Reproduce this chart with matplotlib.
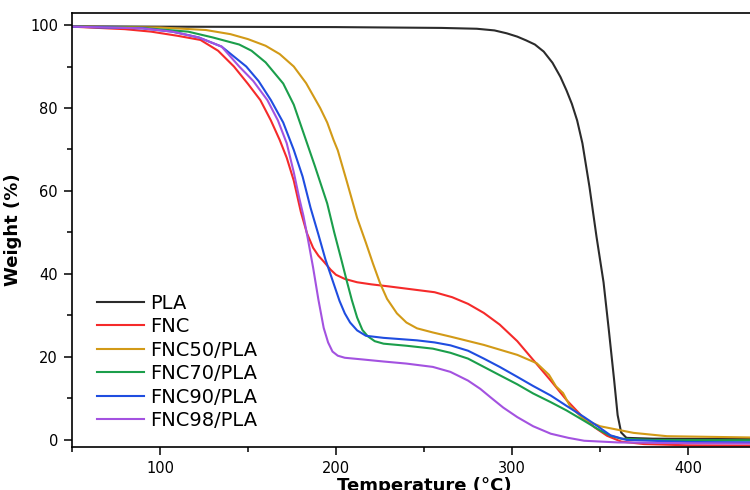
import matplotlib.pyplot as plt
from matplotlib.ticker import MultipleLocator

# TGA curves
pla_t = [50, 100, 200, 260, 280, 290, 297, 303, 308, 313, 318, 323, 327.5, 331, 334, 337, 340, 344, 348, 352, 355, 358, 360,
         362, 365, 380, 450]
pla_w = [99.7, 99.6, 99.5, 99.3, 99.1, 98.7, 98.0, 97.2, 96.3, 95.3, 93.6, 90.9, 87.5, 84.2, 81.0, 77.0, 71.5, 61.0, 49.0,
         38.0, 26.5, 14.5, 6.0, 1.8, 0.5, 0.3, 0.2]

fnc_t = [50, 80, 95, 110, 123, 133, 142, 150, 157, 163, 168, 172, 176, 180, 183.5, 187, 190, 193, 197, 200, 205, 212, 220, 230,
         243, 256, 266, 275, 284, 293, 303, 312, 322, 331, 340, 347, 354, 362, 375, 400, 450]
fnc_w = [99.6, 99.0, 98.4, 97.4, 96.4, 93.8, 90.0, 85.8, 81.9, 77.0, 72.3, 68.0, 62.5, 55.0, 49.8, 46.3, 44.4, 43.0, 41.0, 39.8,
         38.8, 38.0, 37.5, 37.0, 36.3, 35.6, 34.4, 32.8, 30.6, 27.8, 23.8, 19.3, 14.3, 9.6, 5.6, 3.0, 1.0, -0.4, -1.0, -1.3, -1.4]

fnc50_t = [50, 100, 126, 140, 150, 160, 168, 176, 183, 191, 195, 198.6, 201, 206, 212, 217, 221, 225, 229, 234.6, 240, 246, 255,
           265, 284, 303, 314, 321, 325, 329, 333, 341, 350, 369, 388, 450]
fnc50_w = [99.6, 99.4, 98.8, 97.8, 96.6, 95.0, 93.0, 90.0, 86.0, 80.0, 76.5, 72.3, 69.8, 62.5, 53.5, 47.5, 42.5, 37.8, 34.0,
           30.5, 28.3, 26.9, 25.9, 24.9, 22.9, 20.5, 18.5, 15.7, 12.9, 11.3, 8.1, 4.9, 3.3, 1.7, 0.9, 0.5]

fnc70_t = [50, 90, 116, 130, 145, 152, 160, 170, 176, 181.6, 188, 195, 199, 203, 206, 209, 212, 215, 218, 222, 227, 240, 255,
           265, 275, 284, 293, 303, 312, 322, 331, 341, 350, 356, 362, 380, 450]
fnc70_w = [99.6, 99.3, 98.4, 97.0, 95.3, 93.8, 91.0, 85.9, 80.8, 73.9, 66.0, 57.0, 50.0, 43.5, 38.5, 33.7, 29.5, 26.5, 25.0,
           23.8, 23.2, 22.7, 22.0, 21.0, 19.6, 17.6, 15.6, 13.4, 11.2, 9.1, 7.1, 4.6, 2.3, 1.0, 0.3, 0.0, -0.1]

fnc90_t = [50, 90, 107, 122, 135, 149, 156, 163, 170, 176, 181, 185.5, 190, 194, 198, 202, 205, 208, 212, 217, 227, 246, 256,
           265, 275, 284, 293, 303, 312, 322, 331, 341, 349, 356, 365, 400, 450]
fnc90_w = [99.6, 99.2, 98.4, 97.0, 94.8, 90.0, 86.5, 81.9, 76.5, 69.9, 63.5, 56.0, 49.5, 43.5, 38.5, 33.5, 30.5, 28.3, 26.4,
           25.1, 24.6, 24.0, 23.5, 22.8, 21.5, 19.6, 17.6, 15.2, 13.0, 10.7, 8.2, 5.5, 3.2, 1.1, 0.0, -0.5, -0.6]

fnc98_t = [50, 90, 107, 122, 135, 145, 153, 161, 167, 172, 176, 179, 181.5, 184, 187, 190, 193, 195.5, 198, 201, 205, 215,
           227, 240, 255, 265, 275, 282, 288, 295, 303, 312, 322, 332, 341, 360, 400, 450]
fnc98_w = [99.6, 99.2, 98.4, 97.0, 94.8, 90.0, 86.5, 81.9, 77.0, 71.5, 64.5, 58.5, 54.0, 48.5, 41.5, 33.8, 27.0, 23.5, 21.3,
           20.3, 19.8, 19.4, 18.9, 18.4, 17.6, 16.4, 14.3, 12.3, 10.2, 7.8, 5.5, 3.3, 1.5, 0.5, -0.2, -0.6, -0.8, -0.9]

series = [
    ("PLA", pla_t, pla_w, "#2b2b2b"),
    ("FNC", fnc_t, fnc_w, "#f52a2a"),
    ("FNC50/PLA", fnc50_t, fnc50_w, "#d29a17"),
    ("FNC70/PLA", fnc70_t, fnc70_w, "#1b9e4b"),
    ("FNC90/PLA", fnc90_t, fnc90_w, "#1f4de0"),
    ("FNC98/PLA", fnc98_t, fnc98_w, "#a352e0"),
]

plt.rcParams['font.family'] = ['DejaVu Sans']

fig = plt.figure(figsize=(7.5, 4.9), dpi=100)
ax = fig.add_axes([0.096, 0.0878, 0.9387, 0.8857])

for name, t, w, c in series:
    ax.plot(t, w, color=c, lw=1.5, label=name)

ax.set_xlim(50, 450)
ax.set_ylim(-1.7, 102.9)
ax.xaxis.set_major_locator(MultipleLocator(100))
ax.xaxis.set_minor_locator(MultipleLocator(50))
ax.yaxis.set_major_locator(MultipleLocator(20))
ax.yaxis.set_minor_locator(MultipleLocator(10))
ax.tick_params(which='major', direction='out', length=6, width=1.1, labelsize=10.5, pad=4)
ax.tick_params(which='minor', direction='out', length=3.5, width=1.1)
for s in ax.spines.values():
    s.set_linewidth(1.2)

ax.set_xlabel("Temperature (°C)", fontsize=13, fontweight='bold')
ax.set_ylabel("Weight (%)", fontsize=13, fontweight='bold')
ax.xaxis.set_label_coords(0.5, -0.069)
ax.yaxis.set_label_coords(-0.071, 0.5)

ax.legend(loc='upper left', bbox_to_anchor=(0.0355, 0.353), frameon=False, fontsize=14,
          handlelength=2.4, handletextpad=0.35, labelspacing=0.23, borderpad=0, borderaxespad=0)

fig.savefig("out.png", dpi=100)
